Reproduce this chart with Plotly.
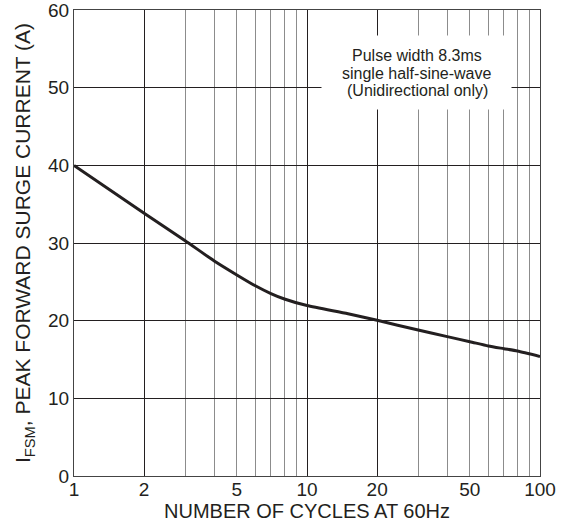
import plotly.graph_objects as go

# Data
cycles = [1, 2, 3, 4, 5, 6, 7, 8, 10, 15, 20, 30, 40, 50, 60, 70, 80, 100]
ifsm = [40, 33.85, 30.3, 27.7, 25.9, 24.5, 23.5, 22.8, 21.95, 20.9, 20.05, 18.8, 17.95, 17.3, 16.75, 16.4, 16.1, 15.4]

grid_vals = [1, 2, 3, 4, 5, 6, 7, 8, 9, 10, 20, 30, 40, 50, 60, 70, 80, 90, 100]
labeled = {1: "1", 2: "2", 5: "5", 10: "10", 20: "20", 50: "50", 100: "100"}
dark_grid_vals = [2, 10, 20, 100]
y_ticks = [0, 10, 20, 30, 40, 50, 60]

note_lines = ["Pulse width 8.3ms", "single half-sine-wave", "(Unidirectional only)"]

ink = "#231f20"
grey = "#8c8c8c"
font_family = "Liberation Sans, Arial, sans-serif"

fig = go.Figure()
# helper (invisible) so that the overlaid dark-grid axis is drawn
fig.add_trace(go.Scatter(
    x=cycles, y=ifsm, mode="markers", xaxis="x2", yaxis="y",
    marker=dict(opacity=0, size=1), showlegend=False, hoverinfo="skip",
))
fig.add_trace(go.Scatter(
    x=cycles, y=ifsm, mode="lines", xaxis="x", yaxis="y",
    line=dict(color=ink, width=3, shape="spline", smoothing=0.6),
    showlegend=False, hoverinfo="skip",
))

ann = [dict(
    text=" ", xref="paper", yref="paper", x=0.735, y=0.866,
    xanchor="center", yanchor="middle", showarrow=False,
    bgcolor="white", width=187, height=71,
)]
for txt, yp in zip(note_lines, [0.9034, 0.8642, 0.8283]):
    ann.append(dict(
        text=txt, xref="paper", yref="paper", x=0.737, y=yp,
        xanchor="center", yanchor="middle", showarrow=False,
        font=dict(size=16, color=ink, family=font_family),
    ))

fig.update_layout(
    width=563, height=522,
    margin=dict(l=74, r=23, t=10, b=46),
    paper_bgcolor="white", plot_bgcolor="white",
    font=dict(family=font_family, color=ink),
    xaxis=dict(
        type="log", range=[0, 2], automargin=False,
        tickmode="array", tickvals=grid_vals,
        ticktext=[labeled.get(v, "") for v in grid_vals],
        showgrid=True, gridcolor=grey, gridwidth=1,
        showline=True, linecolor="#444444", linewidth=1, mirror=True,
        ticks="", tickfont=dict(size=19, color=ink), ticklabelstandoff=-4,
        ticklabeloverflow="allow",
        zeroline=False,
        title=dict(text="NUMBER OF CYCLES AT 60Hz", font=dict(size=20, color=ink), standoff=2),
    ),
    xaxis2=dict(
        type="log", range=[0, 2], overlaying="x", anchor="y", side="bottom",
        tickmode="array", tickvals=dark_grid_vals, automargin=False,
        showgrid=True, gridcolor=ink, gridwidth=1,
        showticklabels=False, ticks="", showline=False, zeroline=False,
    ),
    yaxis=dict(
        range=[0, 60.02], tickmode="array", tickvals=y_ticks, automargin=False,
        showgrid=True, gridcolor=ink, gridwidth=1,
        showline=True, linecolor="#444444", linewidth=1, mirror=True,
        ticks="", tickfont=dict(size=19, color=ink), ticklabeloverflow="allow",
        zeroline=False,
        title=dict(text="I<sub>FSM</sub>, PEAK FORWARD SURGE CURRENT (A)",
                   font=dict(size=21, color=ink), standoff=11),
    ),
    annotations=ann,
)

fig.write_html("out.html")
